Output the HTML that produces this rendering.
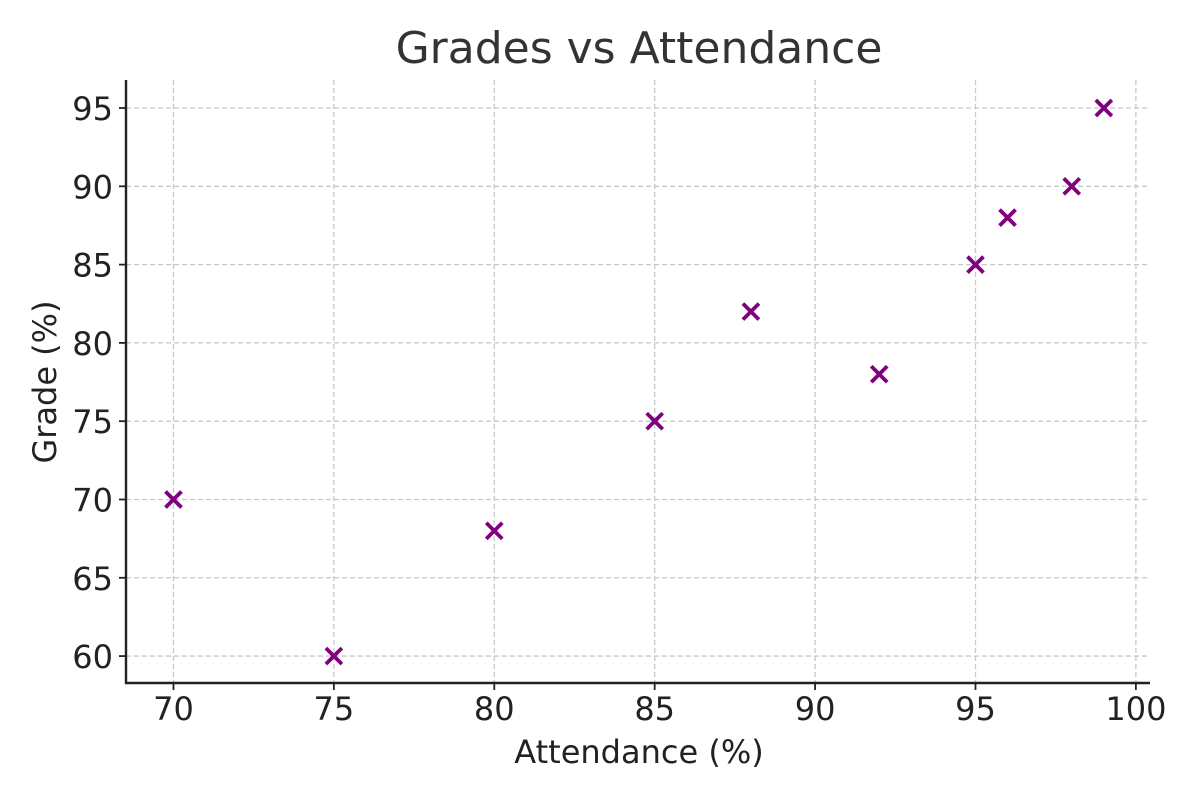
<!DOCTYPE html>
<html><head><meta charset="utf-8"><style>
body{margin:0;background:#fff}
svg text{font-family:"DejaVu Sans","Liberation Sans",sans-serif}
</style></head><body>
<svg id="chart" width="1200" height="800" xmlns="http://www.w3.org/2000/svg">
<rect width="1200" height="800" fill="#fff"/>
<text x="639" y="63" font-size="44" fill="#333" text-anchor="middle">Grades vs Attendance</text>
<g id="grid"></g><g id="axes"></g><g id="marks"></g>
<text x="639" y="763" font-size="32" fill="#222" text-anchor="middle">Attendance (%)</text>
<text transform="translate(56,382) rotate(-90)" font-size="32" fill="#222" text-anchor="middle">Grade (%)</text>
</svg>
<script>
const attendance=[70,75,80,85,88,92,95,96,98,99];
const grades=[70,60,68,75,82,78,85,88,90,95];
const xTicks=[70,75,80,85,90,95,100];
const yTicks=[60,65,70,75,80,85,90,95];
const L=126,R=1150,T=80,B=683;
const xMin=68.52,xMax=100.44,yMin=58.28,yMax=96.79;
function sx(v){return L+(v-xMin)/(xMax-xMin)*(R-L);}
function sy(v){return B-(v-yMin)/(yMax-yMin)*(B-T);}
const NS="http://www.w3.org/2000/svg";
function mk(t,a,p){const e=document.createElementNS(NS,t);for(const k in a)e.setAttribute(k,a[k]);p.appendChild(e);return e;}
const grid=document.getElementById('grid'),axes=document.getElementById('axes'),marks=document.getElementById('marks');
xTicks.forEach(v=>{const x=sx(v);
const g=mk('line',{x1:x,x2:x,y1:T,y2:B,stroke:'#c8c8c8','stroke-width':1.3,'stroke-dasharray':'5,3'},grid);


const t=mk('line',{x1:x,x2:x,y1:B,y2:B+7,stroke:'#222','stroke-width':1.8},axes);


const l=mk('text',{x:x,y:B+37,'font-size':32,fill:'#222','text-anchor':'middle'},axes);l.textContent=v;


});
yTicks.forEach(v=>{const y=sy(v);
const g=mk('line',{x1:L,x2:R,y1:y,y2:y,stroke:'#c8c8c8','stroke-width':1.3,'stroke-dasharray':'5,3'},grid);


const t=mk('line',{x1:L-7,x2:L,y1:y,y2:y,stroke:'#222','stroke-width':1.8},axes);


const l=mk('text',{x:L-13,y:y+12,'font-size':32,fill:'#222','text-anchor':'end'},axes);l.textContent=v;


});
const ls=mk('line',{x1:L,x2:L,y1:T,y2:B+1,stroke:'#222','stroke-width':2.4},axes);


const bs=mk('line',{x1:L-1,x2:R,y1:B,y2:B,stroke:'#222','stroke-width':2.4},axes);


attendance.forEach((a,i)=>{const x=sx(a),y=sy(grades[i]),s=8;
const p=mk('path',{d:`M${x-s},${y-s}L${x+s},${y+s}M${x-s},${y+s}L${x+s},${y-s}`,stroke:'#800080','stroke-width':3.8,fill:'none'},marks);


});
</script>
</body></html>
